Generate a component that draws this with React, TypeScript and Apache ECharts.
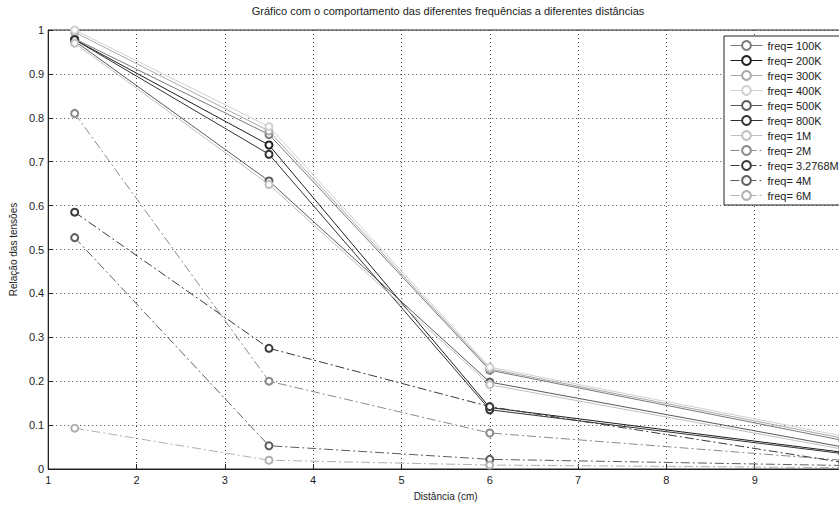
import React, { useEffect, useRef } from "react";
import * as echarts from "echarts";

const distances = [1.3, 3.5, 6, 10];
const seriesNames = [
  "freq= 100K", "freq= 200K", "freq= 300K", "freq= 400K", "freq= 500K", "freq= 800K",
  "freq= 1M", "freq= 2M", "freq= 3.2768M", "freq= 4M", "freq= 6M",
];
const f100K = [0.98, 0.762, 0.225, 0.065];
const f200K = [0.978, 0.738, 0.14, 0.038];
const f300K = [0.995, 0.77, 0.228, 0.07];
const f400K = [1.0, 0.78, 0.232, 0.075];
const f500K = [0.975, 0.656, 0.198, 0.05];
const f800K = [0.978, 0.717, 0.135, 0.035];
const f1M = [0.97, 0.648, 0.192, 0.045];
const f2M = [0.81, 0.2, 0.082, 0.02];
const f3M = [0.585, 0.275, 0.142, 0.015];
const f4M = [0.527, 0.053, 0.022, 0.008];
const f6M = [0.093, 0.02, 0.009, 0.003];
const allValues = [f100K, f200K, f300K, f400K, f500K, f800K, f1M, f2M, f3M, f4M, f6M];
const colors = [
  "#7a7a7a", "#1e1e1e", "#a8a8a8", "#d0d0d0", "#5a5a5a", "#333333",
  "#c0c0c0", "#8a8a8a", "#3a3a3a", "#5e5e5e", "#b0b0b0",
];
const dashed = [false, false, false, false, false, false, false, true, true, true, true];
const xTicks = { min: 1, max: 10, interval: 1 };
const yTicks = { min: 0, max: 1, interval: 0.1 };

const FONT = "'Liberation Sans', Arial, sans-serif";

export default function App() {
  const ref = useRef<HTMLDivElement>(null);
  useEffect(() => {
    if (!ref.current) return;
    const chart = echarts.init(ref.current, null, { renderer: "svg" });
    const series = seriesNames.map((name, i) => ({
      name,
      type: "line",
      data: distances.map((d, j) => [d, allValues[i][j]]),
      symbol: "emptyCircle",
      symbolSize: 7,
      color: colors[i],
      itemStyle: { color: colors[i], borderColor: colors[i], borderWidth: 0.9 },
      lineStyle: {
        color: colors[i],
        width: 1,
        type: dashed[i] ? [9, 3, 2, 3] : "solid",
      },
      emphasis: { disabled: true },
      z: 2 + i,
    }));
    chart.setOption({
      animation: false,
      backgroundColor: "#fff",
      textStyle: { fontFamily: FONT },
      title: {
        text: "Gráfico com o comportamento das diferentes frequências a diferentes distâncias",
        left: 443,
        textAlign: "center",
        top: 0,
        textStyle: { fontSize: 11, fontWeight: "normal", color: "#222", fontFamily: FONT },
      },
      grid: {
        left: 44, right: 7, top: 30, bottom: 25,
        show: true, borderColor: "#222", borderWidth: 1, backgroundColor: "transparent",
      },
      legend: {
        orient: "vertical",
        left: 724,
        top: 36,
        padding: [4, 6, 4, 6],
        itemGap: 4,
        itemWidth: 32,
        itemHeight: 11,
        borderColor: "#222",
        borderWidth: 1,
        backgroundColor: "#fff",
        itemStyle: { borderWidth: 0.9 },
        lineStyle: { width: 1 },
        textStyle: { fontSize: 11, color: "#222", fontFamily: FONT, padding: [0, 0, 0, 0] },
        data: seriesNames,
        z: 20,
      },
      xAxis: {
        type: "value",
        min: xTicks.min, max: xTicks.max, interval: xTicks.interval,
        name: "Distância (cm)",
        nameLocation: "middle",
        nameGap: 22,
        nameTextStyle: { fontSize: 10, color: "#222" },
        axisLine: { lineStyle: { color: "#222" } },
        axisTick: { inside: true, length: 5, lineStyle: { color: "#222" } },
        axisLabel: {
          fontSize: 11, color: "#222", margin: 5,
          formatter: (v: number) => (v >= xTicks.max ? "" : String(v)),
        },
        splitLine: { show: true, lineStyle: { type: [1, 3], color: "#444" } },
      },
      yAxis: {
        type: "value",
        min: yTicks.min, max: yTicks.max, interval: yTicks.interval,
        name: "Relação das tensões",
        nameLocation: "middle",
        nameGap: 28,
        nameTextStyle: { fontSize: 10, color: "#222" },
        axisLine: { show: true, lineStyle: { color: "#222" } },
        axisTick: { show: true, inside: true, length: 5, lineStyle: { color: "#222" } },
        axisLabel: { fontSize: 11, color: "#222", margin: 4 },
        splitLine: { show: true, lineStyle: { type: [1, 3], color: "#444" } },
      },
      series,
    });
    return () => chart.dispose();
  }, []);
  return (
    <div style={{ position: "fixed", left: 0, top: 0, width: 839, height: 506, overflow: "hidden", background: "#fff" }}>
      <div ref={ref} style={{ width: 850, height: 506 }} />
    </div>
  );
}
